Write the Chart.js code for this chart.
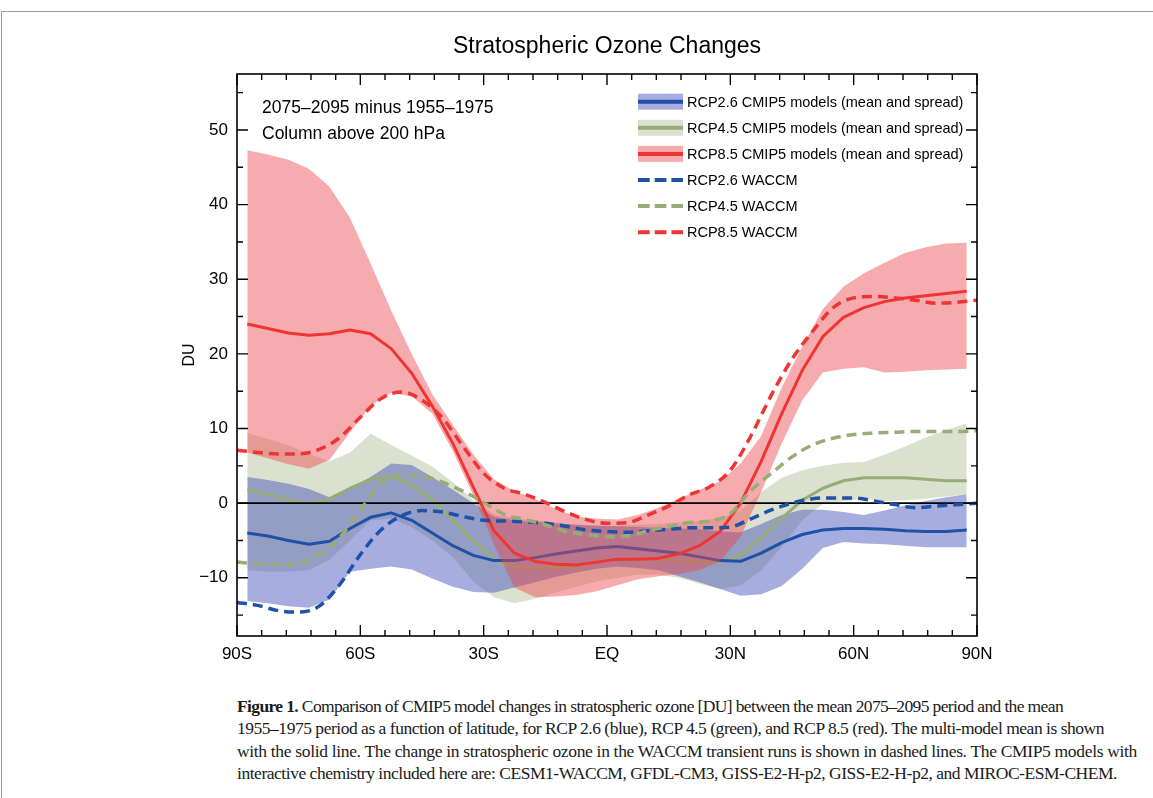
<!DOCTYPE html>
<html>
<head>
<meta charset="utf-8">
<title>Stratospheric Ozone Changes</title>
<script src="https://cdn.jsdelivr.net/npm/chart.js@4.4.1/dist/chart.umd.min.js"></script>
<style>
  html, body { margin: 0; padding: 0; background: #fff; }
  body { width: 1153px; height: 798px; position: relative; overflow: hidden; }
  #frame { position: absolute; left: 1px; top: 11px; width: 1160px; height: 800px;
           border-top: 1px solid #9a9a9a; border-left: 1px solid #9a9a9a; }
  #chart { position: absolute; left: 0; top: 0; }
  #caption { position: absolute; left: 237px; top: 695px; color: #1a1a1a;
             font-family: "Liberation Serif", "DejaVu Serif", serif; font-size: 17.5px;
             line-height: 22.4px; letter-spacing: -0.4px; }
  #caption div { white-space: nowrap; width: max-content; }
</style>
</head>
<body>
<div id="frame"></div>
<canvas id="chart" width="1153" height="680"></canvas>
<div id="caption">
  <div><b>Figure 1.</b> Comparison of CMIP5 model changes in stratospheric ozone [DU] between the mean 2075–2095 period and the mean</div>
  <div>1955–1975 period as a function of latitude, for RCP 2.6 (blue), RCP 4.5 (green), and RCP 8.5 (red). The multi-model mean is shown</div>
  <div>with the solid line. The change in stratospheric ozone in the WACCM transient runs is shown in dashed lines. The CMIP5 models with</div>
  <div>interactive chemistry included here are: CESM1-WACCM, GFDL-CM3, GISS-E2-H-p2, GISS-E2-H-p2, and MIROC-ESM-CHEM.</div>
</div>
<script>
// ---- data (DU change, 2075-2095 minus 1955-1975) ----
const cmipLat = [-87.5, -82.5, -77.5, -72.5, -67.5, -62.5, -57.5, -52.5, -47.5, -42.5, -37.5, -32.5,
  -27.5, -22.5, -17.5, -12.5, -7.5, -2.5, 2.5, 7.5, 12.5, 17.5, 22.5, 27.5,
  32.5, 37.5, 42.5, 47.5, 52.5, 57.5, 62.5, 67.5, 72.5, 77.5, 82.5, 87.5];

const rcp26Mean = [-4.0, -4.4, -5.0, -5.5, -5.1, -3.4, -1.9, -1.3, -2.3, -4.0, -5.7, -7.0,
  -7.7, -7.7, -7.3, -6.8, -6.4, -6.0, -5.8, -6.1, -6.4, -6.7, -7.2, -7.7,
  -7.8, -6.7, -5.3, -4.2, -3.6, -3.4, -3.4, -3.5, -3.7, -3.8, -3.8, -3.6];
const rcp26High = [3.5, 3.1, 2.6, 1.9, 0.8, 2.0, 3.5, 5.3, 5.1, 3.5, 1.8, 0.0,
  -1.8, -2.3, -2.5, -2.7, -2.9, -3.0, -3.1, -3.2, -3.3, -3.4, -3.5, -3.8,
  -3.9, -2.8, -1.6, -0.9, -0.9, -1.2, -1.6, -1.0, -0.3, 0.3, 0.8, 1.2];
const rcp26Low = [-13.1, -13.4, -13.8, -14.0, -12.9, -9.2, -8.8, -8.5, -8.9, -10.1, -11.2, -11.9,
  -12.0, -11.3, -10.6, -9.9, -9.3, -8.8, -8.5, -8.7, -9.0, -9.8, -10.6, -11.5,
  -12.4, -12.2, -11.1, -8.8, -6.0, -5.2, -5.4, -5.5, -5.7, -5.9, -5.9, -5.9];

const rcp45Mean = [1.8, 1.2, 0.5, -0.1, 0.6, 2.0, 3.2, 3.6, 2.4, 0.4, -2.3, -5.0,
  -7.6, -8.6, -8.7, -8.7, -8.6, -7.7, -7.5, -7.5, -7.6, -7.7, -7.9, -7.9,
  -7.0, -4.6, -2.0, 0.4, 2.0, 3.0, 3.4, 3.4, 3.4, 3.2, 3.0, 3.0];
const rcp45High = [9.4, 8.6, 7.8, 6.6, 5.6, 6.8, 9.3, 7.8, 6.4, 4.9, 2.8, 0.4,
  -1.5, -2.0, -2.3, -2.6, -2.9, -3.1, -3.0, -2.9, -2.8, -2.6, -2.4, -2.0,
  -1.0, 1.5, 3.4, 4.4, 5.0, 5.4, 5.5, 6.5, 7.6, 8.8, 9.8, 10.7];
const rcp45Low = [-9.0, -9.2, -9.2, -9.0, -7.6, -5.0, -2.3, -2.1, -3.2, -5.0, -7.2, -10.5,
  -12.6, -13.4, -12.8, -12.0, -11.2, -10.5, -10.0, -9.6, -9.6, -10.0, -10.8, -11.5,
  -11.0, -9.0, -5.9, -2.3, -0.1, 0.3, 0.6, 0.3, 0.4, 0.6, 0.9, 1.2];

const rcp85Mean = [24.0, 23.4, 22.8, 22.5, 22.7, 23.2, 22.7, 20.7, 17.4, 13.0, 8.0, 2.1,
  -3.7, -6.7, -7.8, -8.2, -8.3, -7.9, -7.5, -7.5, -7.4, -6.8, -5.7, -3.8,
  0.0, 5.6, 12.0, 17.8, 22.3, 24.9, 26.2, 27.0, 27.5, 27.8, 28.1, 28.4];
const rcp85High = [47.3, 46.7, 46.0, 44.8, 42.4, 38.2, 32.1, 25.8, 20.0, 14.6, 10.5, 6.5,
  3.2, 1.6, 0.6, -0.8, -1.8, -2.1, -2.2, -1.6, -0.6, 0.6, 1.8, 2.9,
  5.3, 9.0, 15.5, 21.0, 26.0, 29.0, 30.8, 32.2, 33.5, 34.3, 34.8, 34.9];
const rcp85Low = [6.8, 6.0, 5.2, 4.6, 5.8, 9.5, 13.0, 14.8, 14.3, 12.0, 7.0, 1.0,
  -5.5, -11.3, -12.6, -12.5, -12.3, -11.8, -11.0, -10.2, -9.8, -9.5, -9.0, -7.8,
  -4.5, 1.5, 8.0, 13.8, 17.5, 18.0, 18.2, 17.5, 17.6, 17.8, 17.9, 18.0];

const waccmLat = [-90, -85, -80, -75, -70, -65, -60, -55, -50, -45, -40, -35, -30,
  -25, -20, -15, -10, -5, 0, 5, 10, 15, 20, 25, 30,
  35, 40, 45, 50, 55, 60, 65, 70, 75, 80, 85, 90];
const waccm26 = [-13.3, -13.7, -14.4, -14.6, -13.8, -10.9, -6.9, -3.6, -1.7, -1.0, -1.2, -1.8, -2.3,
  -2.4, -2.5, -2.7, -3.1, -3.6, -3.8, -3.9, -3.7, -3.5, -3.3, -3.3, -3.2,
  -2.1, -0.9, 0.0, 0.6, 0.7, 0.7, 0.3, -0.2, -0.6, -0.4, -0.2, 0.0];
const waccm45 = [-7.9, -8.1, -8.2, -8.0, -6.9, -4.6, -0.9, 2.6, 3.7, 3.6, 2.8, 1.6, 0.1,
  -1.5, -2.2, -2.9, -3.8, -4.2, -4.5, -4.4, -3.7, -3.1, -2.6, -2.4, -1.4,
  1.7, 4.0, 6.2, 7.8, 8.7, 9.2, 9.4, 9.5, 9.6, 9.6, 9.6, 9.7];
const waccm85 = [7.1, 6.8, 6.6, 6.6, 7.2, 8.8, 11.5, 14.0, 14.9, 13.8, 11.4, 7.6, 4.0,
  2.0, 1.2, 0.1, -1.2, -2.2, -2.7, -2.6, -1.6, -0.4, 1.1, 2.2, 4.4,
  9.0, 14.5, 19.3, 23.0, 26.2, 27.5, 27.7, 27.5, 27.2, 26.8, 26.9, 27.2];

const xTickValues = [-90, -60, -30, 0, 30, 60, 90];
const xTickLabels = ['90S', '60S', '30S', 'EQ', '30N', '60N', '90N'];
const notes = ['2075–2095 minus 1955–1975', 'Column above 200 hPa'];

// ---- styles ----
const BLUE = '#1f51a8', GREEN = '#97ad76', RED = '#ee3533';
const BLUE_BAND = 'rgba(60,75,185,0.45)';
const GREEN_BAND = 'rgba(140,155,95,0.3)';
const RED_BAND = 'rgba(235,70,75,0.45)';
const FONT = '"Liberation Sans", Arial, Helvetica, sans-serif';

// caption lines are stretched to the widths of the printed figure
const captionWidths = [826, 867, 900, 880];
document.querySelectorAll('#caption div').forEach((el, i) => {
  const extra = (captionWidths[i] - el.getBoundingClientRect().width) / el.textContent.length;
  el.style.letterSpacing = (-0.4 + extra) + 'px';
});

const pts = (lats, vals) => lats.map((x, i) => ({ x, y: vals[i] }));

function meanLine(label, vals, color) {
  return { label, data: pts(cmipLat, vals), borderColor: color, borderWidth: 3,
    pointRadius: 0, fill: false, tension: 0, borderJoinStyle: 'round' };
}
function bandEdge(vals, color, target) {
  return { label: '', data: pts(cmipLat, vals), borderColor: 'rgba(0,0,0,0)', borderWidth: 0,
    pointRadius: 0, backgroundColor: color, fill: target === undefined ? false : target };
}
function waccmLine(label, vals, color) {
  return { label, data: pts(waccmLat, vals), borderColor: color, borderWidth: 3.5,
    borderDash: [10, 6], pointRadius: 0, fill: false, cubicInterpolationMode: 'monotone' };
}

// index 0 is drawn last (on top)
const datasets = [
  waccmLine('RCP8.5 WACCM', waccm85, RED),                      // 0
  waccmLine('RCP4.5 WACCM', waccm45, GREEN),                    // 1
  waccmLine('RCP2.6 WACCM', waccm26, BLUE),                     // 2
  meanLine('RCP8.5 CMIP5 models (mean and spread)', rcp85Mean, RED),   // 3
  bandEdge(rcp85High, RED_BAND, 5),                             // 4
  bandEdge(rcp85Low, RED_BAND),                                 // 5
  meanLine('RCP2.6 CMIP5 models (mean and spread)', rcp26Mean, BLUE),  // 6
  meanLine('RCP4.5 CMIP5 models (mean and spread)', rcp45Mean, GREEN), // 7
  bandEdge(rcp26High, BLUE_BAND, 9),                            // 8
  bandEdge(rcp26Low, BLUE_BAND),                                // 9
  bandEdge(rcp45High, GREEN_BAND, 11),                          // 10
  bandEdge(rcp45Low, GREEN_BAND)                                // 11
];

// legend rows: line dataset + optional band dataset
const legendRows = [[6, 8], [7, 10], [3, 4], [2], [1], [0]];

const overlay = {
  id: 'overlay',
  afterDatasetDraw(chart, args) {
    if (args.index !== 4) return;   // zero line sits above the bands, under the lines
    const { ctx, chartArea: a, scales: { y } } = chart;
    const py = y.getPixelForValue(0);
    ctx.save();
    ctx.strokeStyle = '#000';
    ctx.lineWidth = 1.6;
    ctx.beginPath(); ctx.moveTo(a.left, py); ctx.lineTo(a.right, py); ctx.stroke();
    ctx.restore();
  },
  afterDraw(chart) {
    const { ctx, chartArea: a, scales: { x, y } } = chart;
    ctx.save();
    ctx.strokeStyle = '#000';
    ctx.lineWidth = 1.6;
    ctx.strokeRect(a.left, a.top, a.right - a.left, a.bottom - a.top);

    // inward ticks on all four sides
    ctx.lineWidth = 1.4;
    ctx.beginPath();
    for (let v = -90; v <= 90; v += 6) {
      const px = x.getPixelForValue(v);
      const len = v % 30 === 0 ? 11 : 6;
      ctx.moveTo(px, a.bottom); ctx.lineTo(px, a.bottom - len);
      ctx.moveTo(px, a.top); ctx.lineTo(px, a.top + len);
    }
    for (let v = -15; v <= 55; v += 5) {
      const py = y.getPixelForValue(v);
      const len = v % 10 === 0 ? 11 : 6;
      ctx.moveTo(a.left, py); ctx.lineTo(a.left + len, py);
      ctx.moveTo(a.right, py); ctx.lineTo(a.right - len, py);
    }
    ctx.stroke();

    // period / level notes
    ctx.fillStyle = '#000';
    ctx.font = '17.5px ' + FONT;
    ctx.textBaseline = 'alphabetic';
    notes.forEach((t, i) => ctx.fillText(t, a.left + 25, a.top + 39 + i * 25.5));

    // legend
    const ds = chart.data.datasets;
    const x0 = a.left + 401, w = 45;
    ctx.font = '14.5px ' + FONT;
    ctx.textBaseline = 'middle';
    legendRows.forEach(([li, bi], i) => {
      const cy = a.top + 27.7 + i * 26.1;
      if (bi !== undefined) {
        ctx.fillStyle = ds[bi].backgroundColor;
        ctx.fillRect(x0, cy - 8, w, 16);
      }
      ctx.strokeStyle = ds[li].borderColor;
      ctx.lineWidth = 4;
      ctx.setLineDash(ds[li].borderDash ? [11.7, 5] : []);
      ctx.beginPath(); ctx.moveTo(x0, cy); ctx.lineTo(x0 + w, cy); ctx.stroke();
      ctx.setLineDash([]);
      ctx.fillStyle = '#000';
      ctx.fillText(ds[li].label, x0 + w + 4, cy + 1);
    });
    ctx.restore();
  }
};

Chart.defaults.font.family = FONT;
Chart.defaults.color = '#000';

new Chart(document.getElementById('chart'), {
  type: 'line',
  data: { datasets },
  options: {
    responsive: false,
    animation: false,
    events: [],
    layout: { padding: { left: 167, right: 176, top: 33.2, bottom: 14 } },
    plugins: {
      legend: { display: false },
      tooltip: { enabled: false },
      filler: { propagate: false },
      title: {
        display: true, fullSize: false, text: 'Stratospheric Ozone Changes',
        font: { size: 23, weight: 'normal' }, color: '#000',
        padding: { top: 0, bottom: 13.2 }
      }
    },
    scales: {
      x: {
        type: 'linear', min: -90, max: 90,
        grid: { display: false, drawTicks: false },
        border: { display: false },
        ticks: {
          stepSize: 30, padding: 8, font: { size: 17 }, color: '#000', maxRotation: 0,
          callback: v => xTickLabels[xTickValues.indexOf(v)] ?? ''
        },
        afterFit: s => { s.height = 30; }
      },
      y: {
        min: -17.8, max: 57.5,
        grid: { display: false, drawTicks: false },
        border: { display: false },
        ticks: {
          stepSize: 10, includeBounds: false, padding: 9, font: { size: 17 }, color: '#000',
          callback: v => String(v).replace('-', '\u2212')
        },
        title: { display: true, text: 'DU', font: { size: 16 }, color: '#000', padding: { top: 13 } },
        afterFit: s => { s.width = 70; }
      }
    }
  },
  plugins: [overlay]
});
</script>
</body>
</html>
